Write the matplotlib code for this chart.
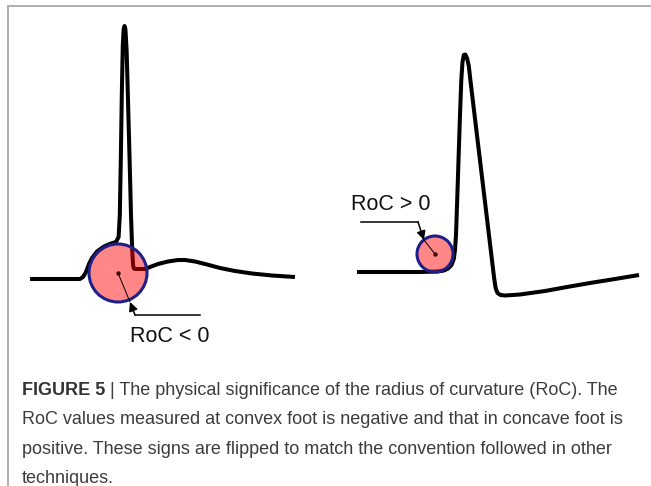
import matplotlib
matplotlib.use("Agg")
import matplotlib.pyplot as plt
import matplotlib.patches as mpatches

# convex-foot pulse (left), points in pixel units
left_x = [30, 80, 83, 86, 89, 92, 97, 104, 111, 116, 118.6, 119.8, 120.8, 121.8, 122.8, 123.7, 124.5,
          125.4, 126.6, 128.0, 129.6, 131.0, 132.2, 133.0, 133.6, 134.5, 145, 150, 158, 168, 178,
          185, 195, 207, 220, 235, 252, 272, 295]
left_y = [279, 279, 277, 272, 264, 258, 251.5, 246.5, 243.5, 242, 237, 215, 160, 95, 45, 29, 26,
          29, 50, 100, 160, 215, 250, 264, 268, 269, 269, 267, 264, 261.5, 260,
          260, 261.5, 264.5, 268, 271, 273.5, 275.5, 277]

# concave-foot pulse (right)
right_x = [357, 420, 438, 444, 448, 451.5, 453.8, 455, 456, 457.2, 458.5, 460, 461.3, 462.5, 463.8, 465.3,
           467, 468.8, 470.6, 494, 495.6, 497.5, 500.5, 505, 520, 545, 567, 590, 615, 639]
right_y = [272, 272, 271.5, 270.5, 268.5, 265, 259, 250, 235, 200, 160, 115, 80, 62, 55, 54.5,
           58, 66, 82, 277, 288, 293, 295, 295.5, 294.5, 291, 287, 283, 279, 275]

# circles of curvature: centre x, centre y, radius
circle_x = [118, 435]
circle_y = [273, 254]
circle_r = [29, 18]

# annotation arrows: horizontal leader, bend point, arrow tip on circle
leader_x = [[200, 135], [361, 418]]
leader_y = [[315, 315], [222, 222]]
tip_x = [130, 424]
tip_y = [302, 240]

labels = ["RoC < 0", "RoC > 0"]
label_x = [130, 351]
label_y = [336, 204]

caption_bold = "FIGURE 5"
caption_lines = [
    " | The physical significance of the radius of curvature (RoC). The",
    "RoC values measured at convex foot is negative and that in concave foot is",
    "positive. These signs are flipped to match the convention followed in other",
    "techniques.",
]

W, H = 651, 486
fig = plt.figure(figsize=(W / 100, H / 100), dpi=100)
ax = fig.add_axes([0, 0, 1, 1])
ax.set_xlim(0, W)
ax.set_ylim(H, 0)
ax.axis("off")

# thin grey frame (top and left)
ax.plot([8, 8, W], [H, 6, 6], color="#a8a8a8", lw=1.3, solid_joinstyle="miter", zorder=1)

# waveforms
for xs, ys in [(left_x, left_y), (right_x, right_y)]:
    ax.plot(xs, ys, color="black", lw=2.9, solid_joinstyle="round",
            solid_capstyle="butt", zorder=2)

# circles, radius lines and arrows
for i in range(2):
    circ = mpatches.Circle((circle_x[i], circle_y[i]), circle_r[i],
                           facecolor=(1, 0, 0, 0.47), edgecolor="#1f1f8a", lw=2.2, zorder=3)
    ax.add_patch(circ)
    ax.plot([circle_x[i], tip_x[i]], [circle_y[i], tip_y[i]], color="black", lw=0.7, zorder=4)
    ax.plot(circle_x[i], circle_y[i], "o", color="#401010", ms=2.2, zorder=4)
    ax.plot(leader_x[i], leader_y[i], color="black", lw=1.1, zorder=4)
    ax.annotate("", xy=(tip_x[i], tip_y[i]), xytext=(leader_x[i][1], leader_y[i][1]),
                arrowprops=dict(arrowstyle="-|>", color="black", lw=1.1,
                                mutation_scale=13, shrinkA=0, shrinkB=0),
                zorder=4)
    ax.text(label_x[i], label_y[i], labels[i], fontsize=15.5, family="Liberation Sans",
            color="#111111", ha="left", va="center", zorder=5)

# caption, sized so the widest line spans the same width as in the figure
cap_font = ["Liberation Sans Narrow", "Liberation Sans"]
renderer = fig.canvas.get_renderer()
probe = ax.text(0, 0, caption_lines[1], fontsize=10, family=cap_font)
w10 = probe.get_window_extent(renderer).width
probe.remove()
cap_size = 10 * 605 / w10

line_y = [390, 419.5, 449, 478]
first = ax.text(22, line_y[0], caption_bold, fontsize=cap_size, family=cap_font,
                weight="bold", color="#333333", ha="left", va="center")
ax.annotate(caption_lines[0], xy=(1, 0.5), xycoords=first, fontsize=cap_size,
            family=cap_font, color="#3c3c3c", ha="left", va="center")
for yy, line in zip(line_y[1:], caption_lines[1:]):
    ax.text(22, yy, line, fontsize=cap_size, family=cap_font, color="#3c3c3c",
            ha="left", va="center")

fig.savefig("out.png", dpi=100)
